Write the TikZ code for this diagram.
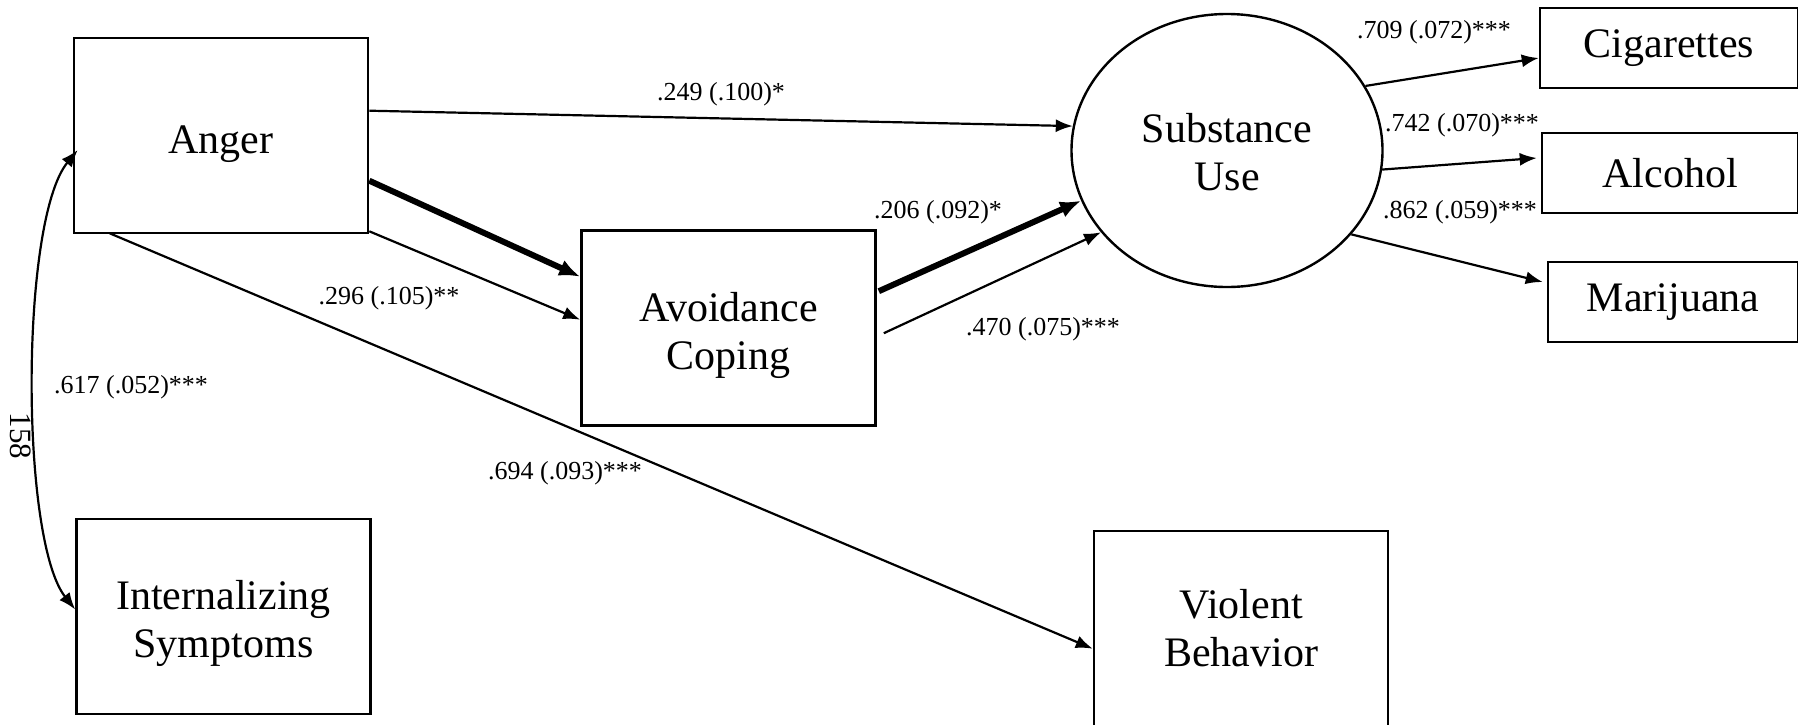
\documentclass[tikz,border=0pt]{standalone}
\usepackage{fontspec}
\setmainfont{Liberation Serif}
\usetikzlibrary{arrows.meta,calc,shapes.geometric}
\tikzset{
  var/.style={draw, line width=2.6pt, rectangle, align=center, inner sep=0pt,
    font=\fontsize{42}{48}\selectfont},
  bigvar/.style={var, minimum width=294pt, minimum height=195pt},
  indvar/.style={var, minimum height=80pt},
  latvar/.style={draw, ellipse, line width=2.4pt, align=center, inner sep=0pt,
    minimum width=311pt, minimum height=273pt, font=\fontsize{42}{48}\selectfont},
  coef/.style={inner sep=0pt, font=\fontsize{26}{30}\selectfont},
  thinarrow/.style={line width=2.2pt, -{Latex[length=17pt,width=13pt]}},
  thickarrow/.style={line width=6pt, -{Latex[length=21pt,width=17pt]}},
  botharrow/.style={line width=2.2pt, {Latex[length=17pt,width=13pt]}-{Latex[length=17pt,width=13pt]}},
}
\newcommand\lowerby[1]{\rule{0pt}{#1}}
\begin{document}
\begin{tikzpicture}[x=1pt,y=-1pt]
\useasboundingbox (0,0) rectangle (1798,724);
% nodes
\node[bigvar] (anger) at (221,135.5) {\lowerby{45pt}Anger};
\node[bigvar] (intern) at (223.5,616.5) {\lowerby{44pt}Internalizing\\Symptoms};
\node[bigvar] (avoid) at (728.5,328) {\lowerby{45pt}Avoidance\\Coping};
\node[bigvar] (viol) at (1241,628.5) {Violent\\Behavior};
\node[latvar] (sub) at (1227,150.5) {\lowerby{33pt}Substance\\Use};
\node[indvar, minimum width=258pt] (cig) at (1669,48) {Cigarettes};
\node[indvar, minimum width=256pt] (alc) at (1670,173) {Alcohol};
\node[indvar, minimum width=250pt] (mar) at (1673,302) {Marijuana};
% connectors
\draw[thinarrow] ($(anger.north east)+(0,74)$) -- (sub.171);
\draw[thickarrow] ($(anger.north east)+(0,144)$) -- ($(avoid.north west)+(0,47.5)$);
\draw[thinarrow] ($(anger.south east)+(0,-3)$) -- ($(avoid.north west)+(0,90.5)$);
\draw[thinarrow] ($(anger.south west)+(37,-1)$) -- ($(viol.north west)+(0,119)$);
\draw[thickarrow] ($(avoid.north east)+(2,62)$) -- (sub.199);
\draw[thinarrow] ($(avoid.north east)+(7,104)$) -- (sub.213);
\draw[thinarrow] (sub.25) -- ($(cig.west)+(0,10)$);
\draw[thinarrow] (sub.-7) -- ($(alc.west)+(-4,-15)$);
\draw[thinarrow] (sub.-34) -- ($(mar.west)+(-4,-20)$);
\draw[botharrow] ($(anger.west)+(5,14.5)$) .. controls (20,220) and (20,540) .. ($(intern.west)+(0,-7)$);
% labels
\node[coef] (l1) at (721,94) {.249 (.100)*};
\node[coef] (l2) at (389,298) {.296 (.105)**};
\node[coef] (l3) at (131,387) {.617 (.052)***};
\node[coef] (l4) at (565,473) {.694 (.093)***};
\node[coef] (l5) at (938,212) {.206 (.092)*};
\node[coef] (l6) at (1043,329) {.470 (.075)***};
\node[coef] (l7) at (1434,32) {.709 (.072)***};
\node[coef] (l8) at (1462,125) {.742 (.070)***};
\node[coef] (l9) at (1460,212) {.862 (.059)***};
\node[inner sep=0pt, rotate=-90, font=\fontsize{31}{36}\selectfont] (pg) at (21,436) {158};
\end{tikzpicture}
\end{document}
